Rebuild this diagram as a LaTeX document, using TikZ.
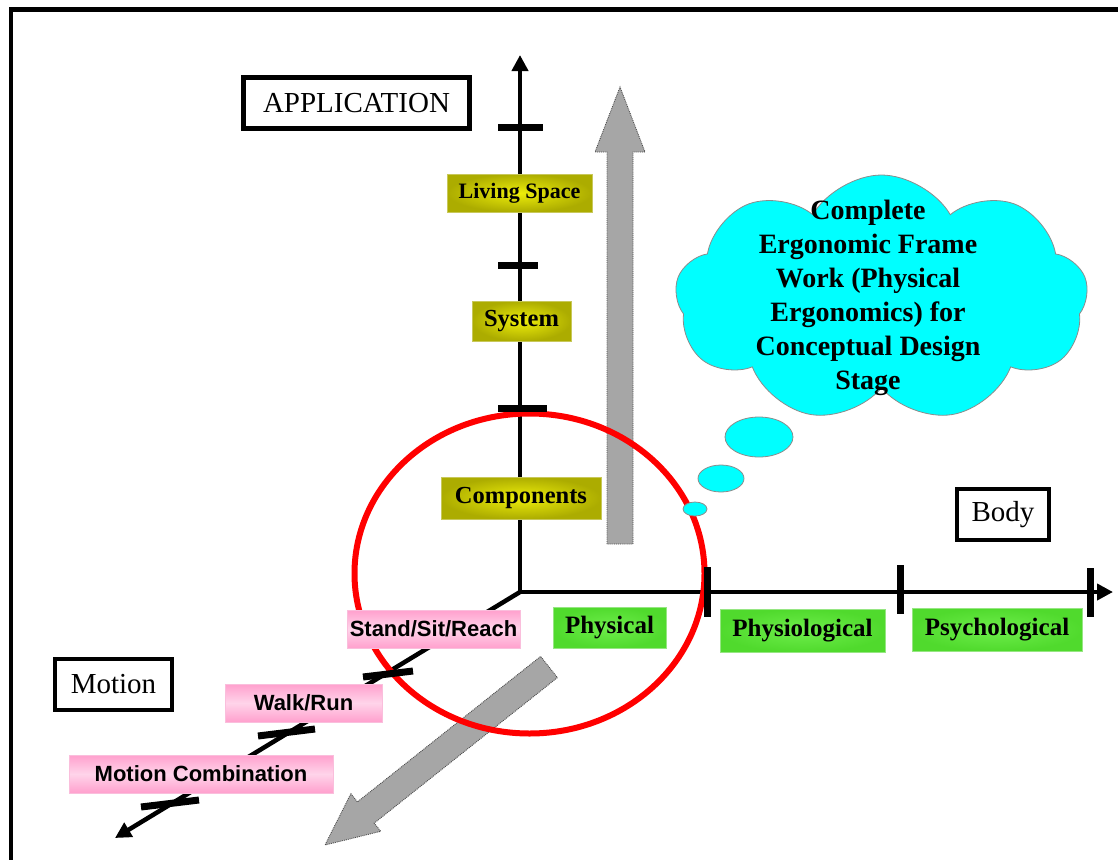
\documentclass[tikz,border=0pt]{standalone}
\usepackage{fontspec}
\setmainfont{Liberation Serif}
\newfontfamily\arialfont{Liberation Sans}
\usetikzlibrary{arrows.meta,shapes.symbols,shapes.geometric}
\definecolor{oliveA}{RGB}{172,172,0}
\definecolor{oliveB}{RGB}{238,238,10}
\definecolor{oliveC}{RGB}{200,200,90}
\definecolor{greenA}{RGB}{80,218,45}
\definecolor{greenB}{RGB}{110,238,75}
\definecolor{greenC}{RGB}{150,230,130}
\definecolor{pinkA}{RGB}{255,160,205}
\definecolor{pinkB}{RGB}{255,212,234}
\definecolor{pinkC}{RGB}{250,190,220}
\definecolor{arrowgray}{RGB}{166,166,166}
\definecolor{cloudcyan}{RGB}{0,255,255}
\begin{document}
\begin{tikzpicture}[x=1pt,y=-1pt,
  lbl/.style={rectangle, inner sep=0pt, anchor=center},
  olivebox/.style={lbl, draw=oliveC, line width=0.8pt, inner color=oliveB, outer color=oliveA,
     font=\bfseries\fontsize{24.5}{28}\selectfont},
  greenbox/.style={lbl, draw=greenC, line width=0.8pt, inner color=greenB, outer color=greenA,
     font=\bfseries\fontsize{25}{28}\selectfont},
  pinkbox/.style={lbl, draw=pinkC, line width=0.8pt, top color=pinkA, bottom color=pinkA, middle color=pinkB,
     font=\arialfont\bfseries\fontsize{22}{26}\selectfont},
  titlebox/.style={lbl, draw=black, fill=white, font=\fontsize{29}{33}\selectfont},
  axis/.style={line width=4.5pt, -{Triangle[length=16pt,width=16pt]}},
  tick/.style={line width=7pt},
  bigarrow/.style={fill=arrowgray, draw=black!70, line width=0.9pt, densely dotted},
  bubble/.style={fill=cloudcyan, draw=black!45, line width=0.8pt}
]
\useasboundingbox (0,0) rectangle (1118,859);

% frame
\draw[line width=4.5pt] (11,861) -- (11,9.5) -- (1120,9.5);

% big gray arrows
\filldraw[bigarrow] (607,544) -- (607,152) -- (595,152) -- (620,87) -- (645,152) -- (633,152) -- (633,544) -- cycle;
\filldraw[bigarrow] (557.4,677.6) -- (374.2,823.1) -- (380.7,831.3) -- (325,845) -- (350.9,793.7) -- (357.4,801.9) -- (540.6,656.4) -- cycle;

% axes
\coordinate (O) at (520,592);
\coordinate (Ytop) at (520,55);
\coordinate (Xend) at (1113,592);
\coordinate (Zend) at (115,838);
\draw[axis] (O) -- (Ytop);
\draw[axis] (O) -- (Xend);
\draw[axis] (O) -- (Zend);

% red circle
\draw[red, line width=6pt] (529.5,573.5) ellipse [x radius=175pt, y radius=160pt];

% ticks on vertical axis
\draw[tick] (498,127) -- (543,127);
\draw[tick] (498,265) -- (538,265);
\draw[tick] (498,408) -- (547,408);
% ticks on horizontal axis
\draw[tick] (707,567) -- (707,617);
\draw[tick] (900,565) -- (900,614);
\draw[tick] (1090,568) -- (1090,617);
% ticks on diagonal axis
\draw[tick] (363,677) -- (413,671);
\draw[tick] (258,736) -- (315,729);
\draw[tick] (141,807) -- (199,800);

% title boxes
\node[titlebox, line width=5pt, minimum width=226pt, minimum height=51pt] (app) at (356.5,103) {APPLICATION};
\node[titlebox, line width=4pt, minimum width=117pt, minimum height=51pt] (motion) at (113.5,684.5) {Motion};
\node[titlebox, line width=4pt, minimum width=92pt, minimum height=51pt] (body) at (1003,514.5) {Body};

% application labels
\node[olivebox, font=\bfseries\fontsize{22}{26}\selectfont, minimum width=145pt, minimum height=38pt] (living) at (519.5,193) {Living Space};
\node[olivebox, minimum width=99pt, minimum height=40pt] (system) at (521.5,321) {System};
\node[olivebox, minimum width=160pt, minimum height=42pt] (comp) at (521,498) {Components};

% body labels
\node[greenbox, minimum width=113pt, minimum height=41pt] (phys) at (609.5,627.5) {Physical};
\node[greenbox, minimum width=165pt, minimum height=43pt] (physio) at (802.5,630.5) {Physiological};
\node[greenbox, minimum width=170pt, minimum height=43pt] (psych) at (997,629.5) {Psychological};

% motion labels
\node[pinkbox, minimum width=173pt, minimum height=38pt] (stand) at (433.5,629) {Stand/Sit/Reach};
\node[pinkbox, minimum width=157pt, minimum height=38pt] (walk) at (303.5,703) {Walk/Run};
\node[pinkbox, minimum width=264pt, minimum height=38pt] (combo) at (201,774) {Motion Combination};

% thought cloud
\node[cloud, cloud puffs=9, cloud puff arc=120, cloud ignores aspect, minimum width=413pt, minimum height=247pt,
      inner sep=0pt, fill=cloudcyan, draw=black!45, line width=0.8pt] (cloud) at (881.5,298.5) {};
\node[align=center, font=\bfseries\fontsize{28}{34}\selectfont] (cloudtext) at (868,298)
  {Complete\\Ergonomic Frame\\Work (Physical\\Ergonomics) for\\Conceptual Design\\Stage};
\draw[bubble] (759,437) ellipse [x radius=34pt, y radius=20pt];
\draw[bubble] (721,478.5) ellipse [x radius=23pt, y radius=13.5pt];
\draw[bubble] (695,509) ellipse [x radius=12pt, y radius=7pt];
\end{tikzpicture}
\end{document}
